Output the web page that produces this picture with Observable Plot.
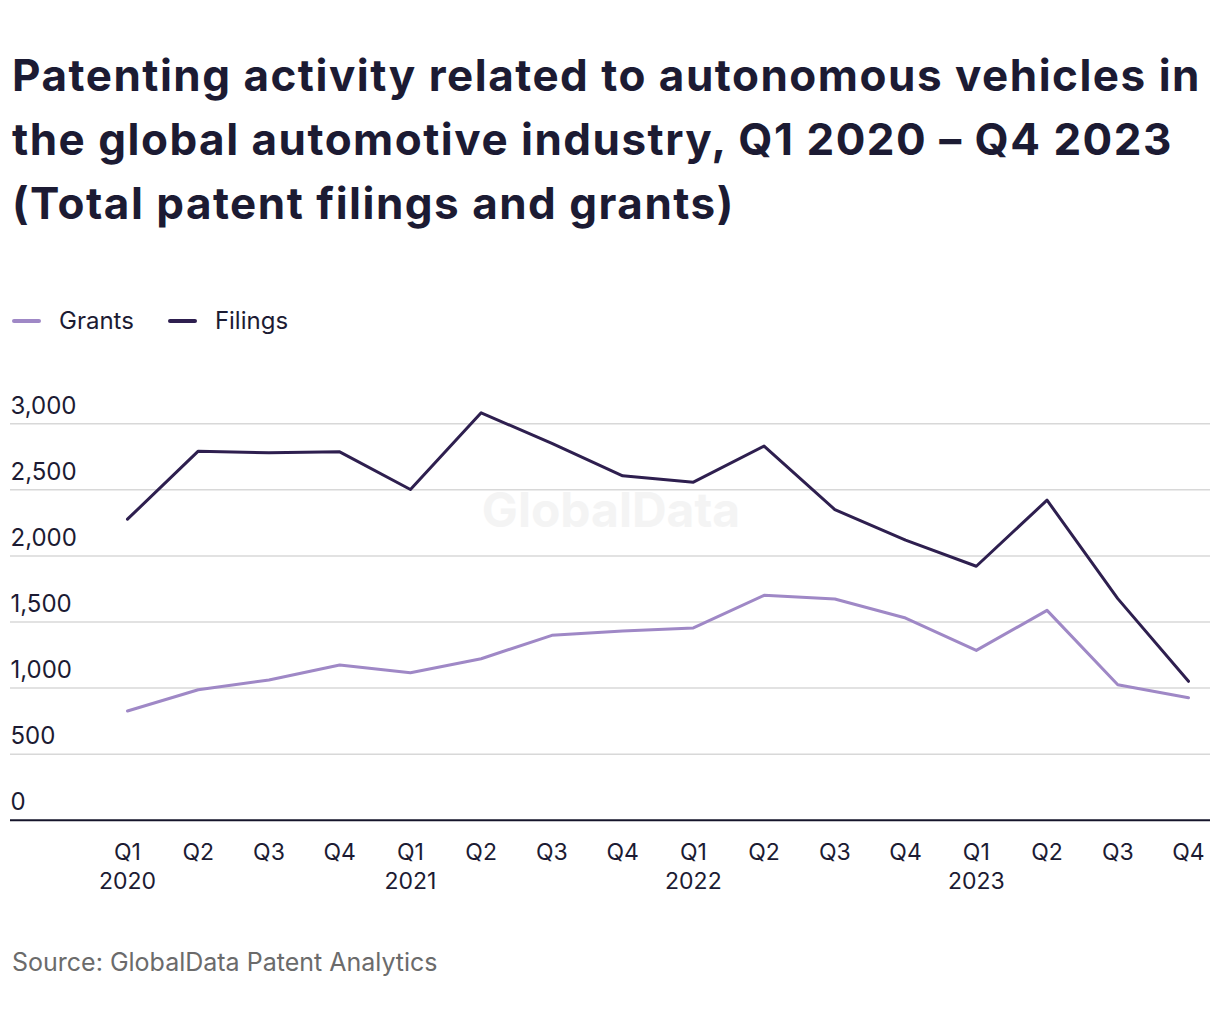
<!DOCTYPE html>
<html>
<head>
<meta charset="utf-8">
<script src="https://cdn.jsdelivr.net/npm/d3@7"></script>
<script src="https://cdn.jsdelivr.net/npm/@observablehq/plot@0.6"></script>
<style>
  html, body { margin: 0; padding: 0; background: #fff; width: 1220px; height: 1020px; overflow: hidden; }
  body { font-family: Inter, "Noto Sans", sans-serif; color: #1c1b33; position: relative; }
  #title { position: absolute; left: 12px; top: 43px; font-size: 44px; line-height: 64px; font-weight: 700; letter-spacing: 1.5px; color: #1c1b33; white-space: nowrap; }
  #legend { position: absolute; left: 12px; top: 306px; font-size: 24px; line-height: 30px; display: flex; align-items: center; }
  .item { display: flex; align-items: center; margin-right: 34px; }
  .sw { width: 29px; height: 4px; border-radius: 2px; margin-right: 18px; }
  #chart { position: absolute; left: 0; top: 380px; }
  #source { position: absolute; left: 12px; top: 947px; font-size: 25px; line-height: 30px; color: #6b6b6b; }
</style>
</head>
<body>
<div id="title">Patenting activity related to autonomous vehicles in<br>the global automotive industry, Q1 2020 – Q4 2023<br>(Total patent filings and grants)</div>
<div id="legend"></div>
<div id="chart"></div>
<div id="source">Source: GlobalData Patent Analytics</div>
<script>
const quarters = ["Q1","Q2","Q3","Q4","Q1","Q2","Q3","Q4","Q1","Q2","Q3","Q4","Q1","Q2","Q3","Q4"];
const years    = ["2020","","","","2021","","","","2022","","","","2023","","",""];
const grants   = [826, 987, 1061, 1174, 1116, 1222, 1399, 1432, 1455, 1702, 1674, 1530, 1285, 1588, 1025, 927];
const filings  = [2278, 2793, 2780, 2788, 2503, 3083, 2852, 2606, 2558, 2831, 2351, 2119, 1922, 2422, 1677, 1051];
const yTicks   = [0, 500, 1000, 1500, 2000, 2500, 3000];
const seriesNames  = ["Grants", "Filings"];
const seriesColors = ["#9f88c6", "#2e1f4f"];

const keys = quarters.map((q, i) => i);
const labelOf = i => years[i] ? quarters[i] + "\n" + years[i] : quarters[i];
const rows = [];
keys.forEach(i => {
  rows.push({k: i, series: "Grants", value: grants[i]});
  rows.push({k: i, series: "Filings", value: filings[i]});
});

// legend
const legend = document.getElementById("legend");
seriesNames.forEach((s, j) => {
  const it = document.createElement("div");
  it.className = "item";
  it.innerHTML = `<span class="sw" style="background:${seriesColors[j]}"></span><span>${s}</span>`;
  legend.appendChild(it);
});

const W = 1220, H = 530, ML = 127, MR = 32, MT = 43.3, MB = 90.3;
const chart = Plot.plot({
  width: W, height: H,
  marginLeft: ML, marginRight: MR, marginTop: MT, marginBottom: MB,
  style: { fontFamily: "Inter, 'Noto Sans', sans-serif", fontSize: "23px", color: "#1c1b33", background: "transparent", overflow: "visible" },
  x: { type: "point", domain: keys, padding: 0, round: false, axis: null },
  y: { domain: [0, 3000], axis: null },
  color: { domain: seriesNames, range: seriesColors },
  marks: [
    Plot.text(["GlobalData"], { frameAnchor: "middle", dx: -47, dy: -110, text: d => d, fontSize: 48, fontWeight: 700, fill: "#f4f4f4" }),
    Plot.ruleY(yTicks.filter(d => d > 0), { stroke: "#d8d8d8", strokeWidth: 1.5, insetLeft: -117, insetRight: -22 }),
    Plot.ruleY([0], { stroke: "#15142b", strokeWidth: 2, insetLeft: -117, insetRight: -22 }),
    Plot.text(yTicks, { y: d => d, text: d => d3.format(",")(d), frameAnchor: "left", textAnchor: "start", dx: -117, dy: -17.5, fontSize: 24, fill: "#1c1b33" }),
    Plot.text(keys, { x: d => d, y: 0, text: labelOf, lineAnchor: "top", dy: 19, lineHeight: 1.27, fontSize: 23, fill: "#1c1b33" }),
    Plot.line(rows, { x: "k", y: "value", z: "series", stroke: "series", strokeWidth: 3, curve: "linear" })
  ]
});
document.getElementById("chart").appendChild(chart);
</script>
</body>
</html>
